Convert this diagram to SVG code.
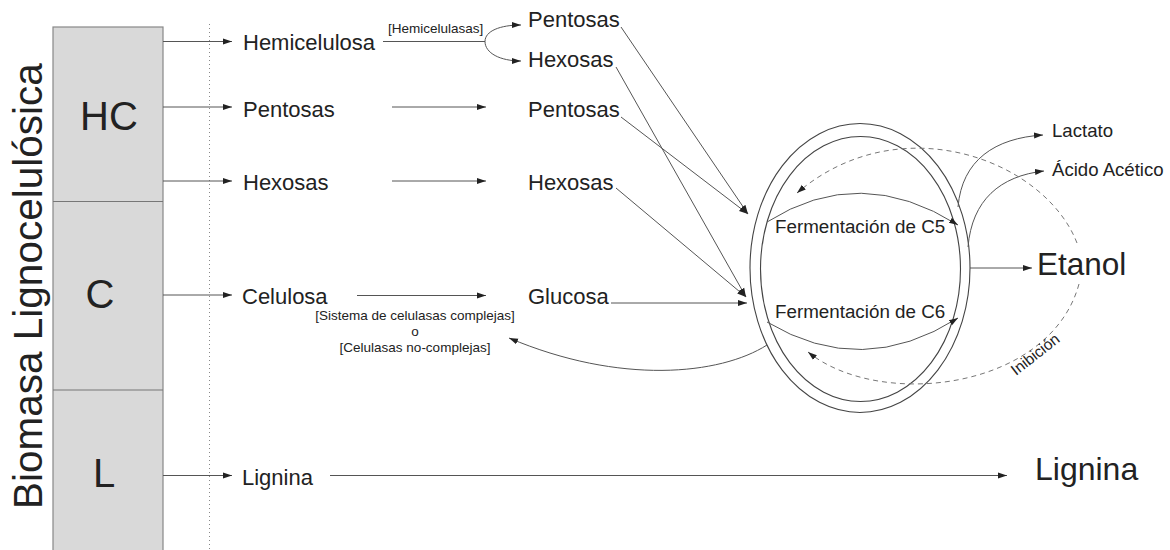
<svg xmlns="http://www.w3.org/2000/svg" width="1170" height="550" viewBox="0 0 1170 550">
<defs>
<marker id="ah" markerUnits="userSpaceOnUse" markerWidth="10" markerHeight="8" refX="9" refY="4" orient="auto"><path d="M0,1 L9,4 L0,7 z" fill="#222"/></marker>
</defs>
<style>
.t{font-family:"Liberation Sans",Arial,sans-serif;fill:#222}
.ln{stroke:#555;stroke-width:1;fill:none}
.ar{marker-end:url(#ah)}
.ds{stroke:#777;stroke-width:1;stroke-dasharray:5,4;fill:none}
.el{stroke:#444;stroke-width:1.1;fill:none}
.r{font-size:22px}
.s{font-size:13.5px}
</style>
<rect width="1170" height="550" fill="#fff"/>

<g id="title">
<text class="t" transform="translate(42,509) rotate(-90)" font-size="40.5">Biomasa Lignocelulósica</text>
</g>

<g id="box">
<rect x="53" y="27" width="110" height="530" fill="#d9d9d9" stroke="#888" stroke-width="1.2"/>
<line x1="53" y1="201.5" x2="163" y2="201.5" stroke="#777" stroke-width="1.2"/>
<line x1="53" y1="390" x2="163" y2="390" stroke="#777" stroke-width="1.2"/>
<text class="t" x="109" y="130" font-size="40" text-anchor="middle">HC</text>
<text class="t" x="100" y="308" font-size="40" text-anchor="middle">C</text>
<text class="t" x="104" y="487" font-size="40" text-anchor="middle">L</text>
</g>

<g id="divider">
<line x1="209.5" y1="24" x2="209.5" y2="550" stroke="#888" stroke-width="1" stroke-dasharray="1,3"/>
</g>

<g id="n-hemicelulosa"><text class="t r" x="243" y="50">Hemicelulosa</text></g>
<g id="n-pentosas-l"><text class="t r" x="243" y="117">Pentosas</text></g>
<g id="n-hexosas-l"><text class="t r" x="243" y="190">Hexosas</text></g>
<g id="n-celulosa"><text class="t r" x="242" y="304">Celulosa</text></g>
<g id="n-lignina-l"><text class="t r" x="242" y="485">Lignina</text></g>

<g id="n-pentosas-t"><text class="t r" x="528" y="27">Pentosas</text></g>
<g id="n-hexosas-t"><text class="t r" x="528" y="67">Hexosas</text></g>
<g id="n-pentosas-m"><text class="t r" x="528" y="117">Pentosas</text></g>
<g id="n-hexosas-m"><text class="t r" x="528" y="190">Hexosas</text></g>
<g id="n-glucosa"><text class="t r" x="528" y="304">Glucosa</text></g>

<g id="n-fermentacion">
<ellipse class="el" cx="860" cy="268" rx="110" ry="144.5"/>
<ellipse class="el" cx="860.5" cy="269" rx="100" ry="132.5"/>
<text class="t" x="775" y="233" font-size="18.8">Fermentación de C5</text>
<text class="t" x="775" y="318" font-size="18.8">Fermentación de C6</text>
</g>

<g id="n-lactato"><text class="t" x="1052" y="137" font-size="18.6">Lactato</text></g>
<g id="n-acetico"><text class="t" x="1052" y="176" font-size="18.6">Ácido Acético</text></g>
<g id="n-etanol"><text class="t" x="1037" y="275" font-size="31.5">Etanol</text></g>
<g id="n-lignina-r"><text class="t" x="1035" y="480" font-size="32">Lignina</text></g>

<g id="connectors">
<line class="ln ar" x1="163" y1="41.5" x2="232" y2="41.5"/>
<line class="ln ar" x1="163" y1="107" x2="232" y2="107"/>
<line class="ln ar" x1="163" y1="181" x2="232" y2="181"/>
<line class="ln ar" x1="163" y1="295" x2="232" y2="295"/>
<line class="ln ar" x1="163" y1="475.5" x2="232" y2="475.5"/>

<line class="ln" x1="383" y1="41.5" x2="485" y2="41.5"/>
<path class="ln ar" d="M485,41.5 C485,31 500,25 521,25"/>
<path class="ln ar" d="M485,41.5 C485,53 500,61 521,61"/>
<text class="t s" x="388" y="33">[Hemicelulasas]</text>

<line class="ln ar" x1="392" y1="107" x2="486" y2="107"/>
<line class="ln ar" x1="392" y1="181" x2="486" y2="181"/>
<line class="ln ar" x1="357" y1="295.5" x2="486" y2="295.5"/>
<line class="ln ar" x1="330" y1="475.5" x2="1007" y2="475.5"/>

<text class="t s" x="415" y="320" text-anchor="middle">[Sistema de celulasas complejas]</text>
<text class="t s" x="415" y="336" text-anchor="middle">o</text>
<text class="t s" x="415" y="352" text-anchor="middle">[Celulasas no-complejas]</text>
<path class="ln ar" d="M767,345 C720,375 620,385 509,338"/>

<line class="ln ar" x1="621" y1="27" x2="748" y2="214"/>
<line class="ln ar" x1="621" y1="117" x2="748" y2="214"/>
<line class="ln ar" x1="616" y1="67" x2="746" y2="297"/>
<line class="ln ar" x1="616" y1="188" x2="746" y2="297"/>
<line class="ln ar" x1="611" y1="303" x2="747" y2="303"/>

<path class="ln ar" d="M767,222 Q860,163 958,225"/>
<path class="ln ar" d="M767,322 Q862,379 958,318"/>

<path class="ln ar" d="M958,207 C962,160 995,138 1043,135"/>
<path class="ln ar" d="M968,247 C972,200 1000,176 1044,171"/>
<line class="ln ar" x1="970" y1="268" x2="1032" y2="268"/>

<path class="ds ar" d="M1077,243 C1045,160 900,105 797,193"/>
<path class="ds ar" d="M1079,284 C1050,390 880,410 808,352"/>
<text class="t" transform="translate(1016,376) rotate(-38)" font-size="15.5" fill="#333">Inibición</text>
</g>
</svg>
